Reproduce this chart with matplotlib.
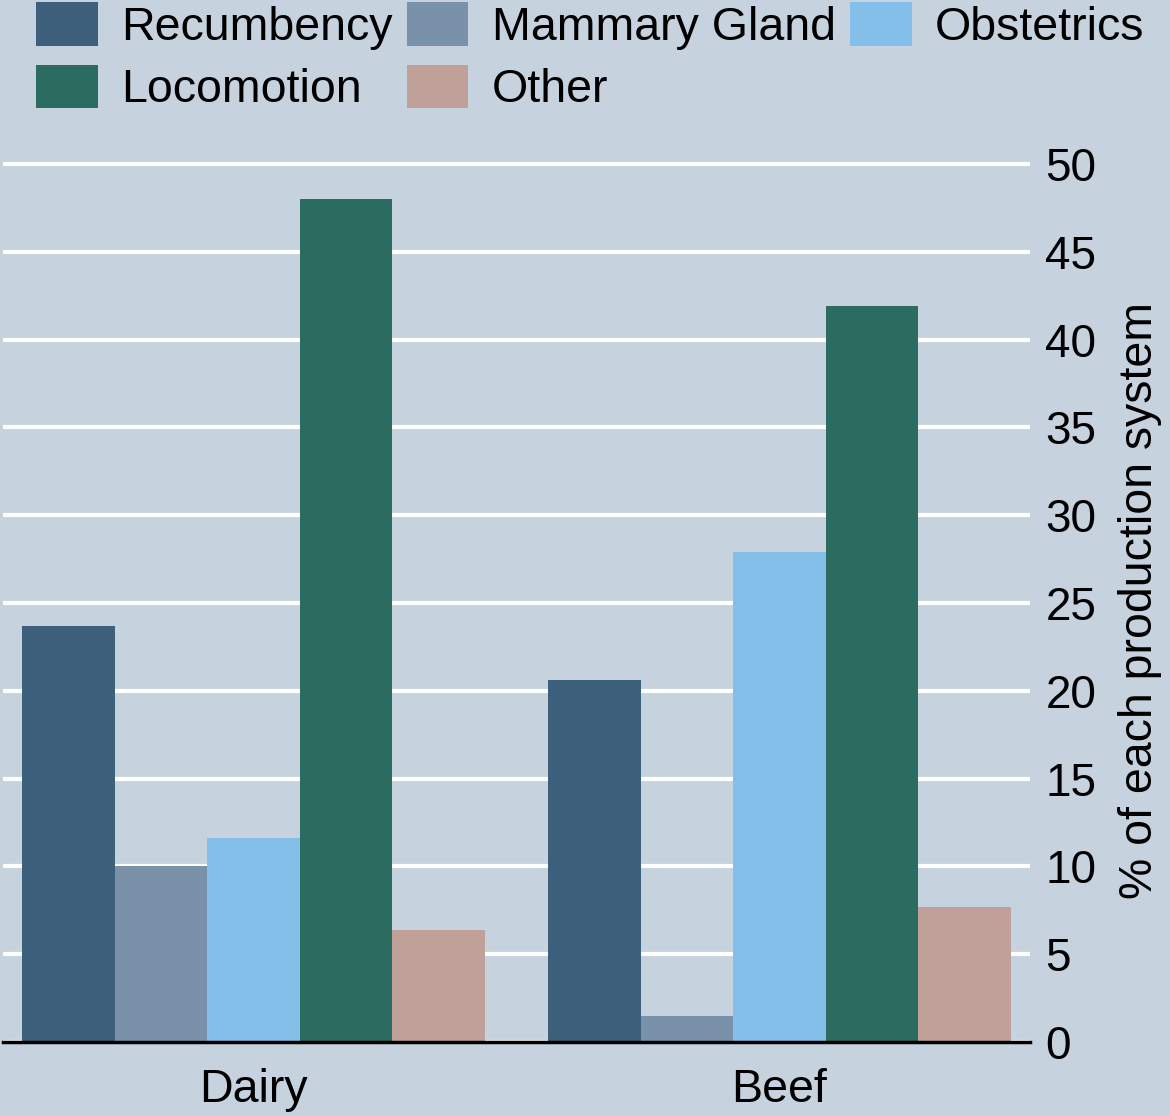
import matplotlib
matplotlib.use("Agg")
import matplotlib.pyplot as plt
from matplotlib.patches import Patch
import numpy as np

# ---------------------------
# DATA
# ---------------------------
systems = ["Dairy", "Beef"]
categories = ["Recumbency", "Mammary Gland", "Obstetrics", "Locomotion", "Other"]
recumbency = [23.7, 20.6]
mammary_gland = [10.0, 1.5]
obstetrics = [11.6, 27.9]
locomotion = [48.0, 41.9]
other = [6.4, 7.7]
y_ticks = [0, 5, 10, 15, 20, 25, 30, 35, 40, 45, 50]

series = [recumbency, mammary_gland, obstetrics, locomotion, other]
colors = ["#3c607b", "#7a92a9", "#83bfe9", "#2b6b60", "#bfa199"]
BG = "#c6d3df"
FS = 33.5

plt.rcParams["font.family"] = ["Liberation Sans", "DejaVu Sans"]

# ---------------------------
# PLOT
# ---------------------------
fig = plt.figure(figsize=(11.7, 11.16), dpi=100, facecolor=BG)
ax = fig.add_axes([3 / 1170, 74 / 1116, 1027 / 1170, (1042 - 158.7) / 1116])
ax.set_facecolor(BG)

x = np.arange(len(systems))
width = 0.176
for i, (vals, col) in enumerate(zip(series, colors)):
    ax.bar(x + (i - 2) * width, vals, width, color=col, edgecolor="none", zorder=3)

ax.set_xlim(-0.477, 1.477)
ax.set_ylim(0, 50.3)
ax.set_yticks(y_ticks)
ax.yaxis.tick_right()
ax.yaxis.set_label_position("right")
ax.tick_params(axis="y", length=0, pad=11, labelsize=FS - 0.5)
ax.tick_params(axis="x", length=0, pad=19, labelsize=FS)
ax.set_xticks(x)
ax.set_xticklabels(systems)
ax.grid(axis="y", color="white", linewidth=3, zorder=1)
ax.set_axisbelow(True)

for s in ["top", "left", "right"]:
    ax.spines[s].set_visible(False)
ax.spines["bottom"].set_color("black")
ax.spines["bottom"].set_linewidth(2.5)
ax.spines["bottom"].set_zorder(4)

ax.set_ylabel("% of each production system", fontsize=FS, labelpad=16)

# legend filled row by row: reorder for matplotlib's column-first layout
order = [0, 3, 1, 4, 2]
legend_elements = [Patch(facecolor=colors[k], edgecolor="none", label=categories[k])
                   for k in order]
fig.legend(handles=legend_elements, loc="upper left",
           bbox_to_anchor=(36 / 1170, 1 - 2 / 1116), ncol=3, frameon=False,
           fontsize=FS, borderpad=0, borderaxespad=0,
           handlelength=1.33, handleheight=1.07, handletextpad=0.5,
           columnspacing=0.3, labelspacing=0.32)

fig.savefig("out.png", dpi=100, facecolor=BG)
